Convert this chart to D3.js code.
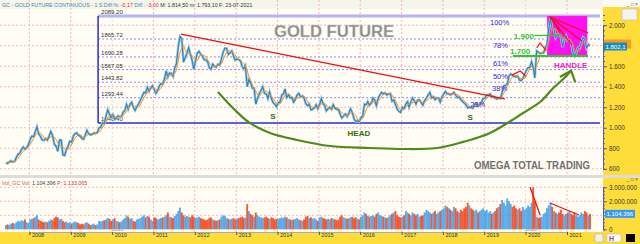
<!DOCTYPE html>
<html lang="en">
<head>
<meta charset="UTF-8">
<title>Gold Future</title>
<style>
  body { margin: 0; background: #fff; }
  svg { display: block; font-family: "Liberation Sans", Arial, sans-serif; }
</style>
</head>
<body>
<script src="https://d3js.org/d3.v7.min.js"></script>
<script>
// ---- data (semi-monthly closes from Jun 2007 to Jul 2021) ----
var closes = [
  660,652,668,678,668,672,712,742,752,788,812,792,805,835,                                           // 2007 Jun-Dec
  885,918,915,968,1010,940,915,880,878,895,880,920,965,928,840,822,770,880,880,735,730,790,820,870,  // 2008
  860,920,945,950,925,920,895,888,930,975,940,930,935,950,945,955,1000,1005,1050,1040,1115,1175,1135,1100,
  1130,1085,1090,1118,1108,1110,1152,1168,1228,1180,1230,1250,1195,1170,1208,1235,1270,1305,1345,1340,1395,1355,1390,1410,
  1370,1335,1365,1410,1430,1425,1475,1555,1495,1535,1530,1500,1585,1625,1790,1890,1870,1640,1680,1725,1780,1715,1660,1570,
  1655,1730,1745,1715,1700,1665,1660,1645,1585,1570,1620,1600,1590,1620,1610,1670,1740,1775,1775,1715,1730,1750,1700,1660,
  1670,1665,1650,1595,1575,1605,1400,1470,1440,1385,1385,1230,1285,1330,1365,1400,1335,1330,1285,1350,1285,1245,1230,1205,
  1245,1250,1320,1330,1380,1295,1320,1290,1295,1250,1280,1320,1335,1300,1310,1290,1235,1215,1230,1175,1180,1195,1225,1185,
  1230,1285,1235,1210,1165,1185,1200,1180,1225,1190,1180,1175,1130,1095,1115,1135,1110,1145,1185,1150,1085,1060,1070,1060,
  1100,1115,1230,1225,1255,1220,1240,1290,1270,1215,1290,1320,1345,1330,1340,1320,1330,1335,1260,1270,1225,1180,1160,1150,
  1200,1190,1235,1255,1200,1250,1290,1265,1230,1270,1270,1245,1220,1265,1290,1320,1345,1290,1300,1275,1290,1290,1250,1300,
  1330,1355,1330,1330,1320,1330,1345,1320,1295,1300,1275,1255,1240,1225,1195,1200,1195,1190,1230,1235,1210,1225,1250,1285,
  1290,1320,1320,1330,1300,1300,1290,1280,1290,1285,1345,1410,1415,1425,1505,1525,1510,1500,1495,1505,1465,1460,1480,1520,
  1560,1585,1590,1645,1590,1485,1750,1735,1725,1730,1730,1780,1810,1960,2065,1960,1960,1880,1910,1905,1890,1785,1860,1895,
  1850,1850,1820,1735,1700,1730,1780,1780,1840,1880,1860,1780,1810,1802                              // 2021 Jan-Jul
];

// orange moving average, one value per month from Jun 2007
var maMonthly = [
  656,665,671,698,748,786,811,
  861,922,955,932,892,893,923,889,828,816,784,802,
  867,919,935,907,922,944,939,946,976,1024,1095,1131,
  1113,1106,1107,1135,1182,1222,1211,1202,1255,1315,1359,1388,
  1376,1370,1408,1471,1515,1515,1560,1723,1798,1729,1725,1681,
  1654,1711,1706,1668,1615,1594,1608,1623,1699,1751,1743,1710,
  1674,1645,1606,1513,1424,1360,1308,1345,1358,1325,1291,1241,
  1233,1286,1331,1321,1289,1286,1309,1309,1263,1214,1195,1196,
  1231,1240,1199,1183,1199,1193,1145,1119,1126,1148,1120,1069,
  1086,1168,1233,1251,1254,1274,1321,1334,1331,1299,1234,1179,
  1175,1220,1235,1251,1264,1254,1250,1274,1311,1303,1289,1283,
  1309,1336,1328,1329,1315,1281,1249,1215,1195,1213,1225,1243,
  1286,1315,1313,1293,1286,1333,1399,1468,1510,1503,1481,1481,
  1536,1595,1578,1640,1735,1741,1820,1949,1966,1914,1873,1858,
  1864,1814,1746,1748,1820,1840,1813
];

// volume in millions, same semi-monthly dates as closes
var volumesM = [
  0.3,0.35,0.3,0.4,0.45,0.4,0.5,0.6,0.55,0.65,0.6,0.7,0.5,0.45,
  0.7,0.75,0.8,0.9,1.0,0.7,0.6,0.55,0.5,0.55,0.5,0.6,0.7,0.65,0.8,0.9,0.85,0.7,0.75,0.6,0.5,0.55,0.45,0.5,
  0.4,0.5,0.55,0.5,0.45,0.35,0.4,0.35,0.45,0.5,0.4,0.3,0.35,0.4,0.3,0.35,0.6,0.55,0.6,0.65,0.7,0.8,0.75,0.6,
  0.7,0.8,0.6,0.55,0.5,0.55,0.7,0.8,1.0,0.9,0.75,0.8,0.6,0.55,0.7,0.75,0.8,0.9,1.0,0.85,0.95,0.9,0.7,0.6,
  0.85,0.8,0.7,0.75,0.8,0.85,0.9,1.0,1.2,0.9,0.85,0.8,0.95,1.1,1.3,1.55,1.2,1.0,0.9,0.95,0.9,0.85,1.0,0.9,
  0.8,0.85,0.9,0.8,0.75,0.7,0.65,0.7,0.8,0.85,0.7,0.65,0.6,0.65,0.7,0.9,1.0,0.95,0.8,0.75,0.7,0.75,0.8,0.7,
  0.75,0.8,0.85,0.9,0.8,0.85,1.8,1.3,1.1,1.0,0.9,1.2,1.0,0.9,0.85,0.8,0.85,0.9,0.8,0.75,0.85,0.8,0.7,0.75,
  0.75,0.8,0.85,0.8,0.9,0.85,0.75,0.7,0.65,0.7,0.75,0.8,0.7,0.65,0.6,0.7,0.9,0.95,0.8,0.85,0.75,0.8,0.7,0.6,
  0.85,0.9,0.8,0.75,0.7,0.75,0.7,0.8,0.75,0.7,0.65,0.7,0.9,1.0,0.85,0.8,0.75,0.8,0.85,0.9,0.8,0.85,0.75,0.7,
  0.9,1.0,1.2,1.1,0.95,0.9,0.95,1.0,0.9,1.1,1.2,1.0,0.95,0.9,0.85,0.8,0.9,1.0,1.1,1.2,1.3,1.0,0.9,0.85,
  0.9,1.0,1.3,1.2,1.1,1.0,1.2,1.1,1.0,1.1,0.9,0.95,1.0,1.2,1.4,1.3,1.2,1.1,1.2,1.3,1.1,1.2,1.3,1.4,
  1.5,1.7,1.6,1.5,1.4,1.3,1.6,1.5,1.3,1.2,1.4,1.3,1.5,1.6,1.9,1.7,1.5,1.4,1.3,1.4,1.2,1.3,1.4,1.5,
  1.3,1.4,1.2,1.3,1.1,1.2,1.3,1.5,1.6,1.8,2.1,1.9,1.7,2.2,2.0,1.8,1.6,1.7,1.5,1.4,1.5,1.3,1.6,1.4,
  1.5,1.7,1.6,1.9,3.0,2.0,0.9,0.8,0.85,0.9,1.1,1.2,1.5,1.7,1.9,1.6,1.3,1.2,1.1,1.2,1.4,1.1,1.0,1.1,
  1.2,1.3,1.1,1.0,1.2,1.0,0.9,1.0,1.2,1.1,1.3,1.2,1.0,1.1
];

// fibonacci retracement levels (2015 low to 2020 high)
var fibLevels = [2089.20, 1865.72, 1690.28, 1567.05, 1443.82, 1293.44, 1046.40];
var fibPct = ["100%", "78%", "61%", "50%", "38%", "23%"];
var priceTicks = [600, 800, 1000, 1200, 1400, 1600, 1800, 2000];
var priceLabelTicks = [600, 800, 1000, 1200, 1400, 1600, 2000];   // 1.800 sits under the last-price tag
var volTicks = [0, 2000000, 3000000];                              // 1.000.000 sits under the last-volume tag
var years = d3.range(2008, 2022);

var lastPrice = "1.802,1";
var lastVol = "1.104.396";

// ---- setup ----
var W = 640, H = 244;
var plotR = 603;
var yellow = "#fedd3a";
var grid = "#f2b4c2";

var loc = d3.formatLocale({decimal: ",", thousands: ".", grouping: [3], currency: ["", ""]});
var fmt = loc.format(",");

var start = new Date(2007, 5, 1);
var closeDates = closes.map(function(d, i) {
  return d3.timeDay.offset(d3.timeMonth.offset(start, Math.floor(i / 2)), i % 2 ? 22 : 7);
});
var maDates = maMonthly.map(function(d, i) {
  return d3.timeDay.offset(d3.timeMonth.offset(start, i), 20);
});

// fractional year -> date
function fy(t) {
  var y0 = Math.floor(t), a = new Date(y0, 0, 1), b = new Date(y0 + 1, 0, 1);
  return new Date(+a + (t - y0) * (b - a));
}

var x = d3.scaleTime().domain([new Date(2008, 0, 1), new Date(2021, 0, 1)]).range([29.4, 567]);
var yP = d3.scaleLinear().domain([600, 2000]).range([168.8, 25.2]);
var yV = d3.scaleLinear().domain([0, 3000000]).range([229.3, 187.3]);

function P(t, p) { return [x(fy(t)), yP(p)]; }

var svg = d3.select("body").append("svg").attr("width", W).attr("height", H);

svg.append("rect").attr("width", W).attr("height", H).attr("fill", "#fffdf4");
svg.append("defs").append("clipPath").attr("id", "plot")
  .append("rect").attr("x", 0).attr("y", 9).attr("width", plotR).attr("height", 166);

// title bar
svg.append("rect").attr("x", 0).attr("y", 0).attr("width", plotR).attr("height", 9).attr("fill", "#f5f5ec");

// ---- grids ----
var g = svg.append("g");
years.forEach(function(yr) {
  var xx = x(new Date(yr, 0, 1));
  g.append("line").attr("x1", xx).attr("x2", xx).attr("y1", 0).attr("y2", 175)
    .attr("stroke", yr % 10 === 0 ? "#e0dcdc" : grid).attr("stroke-dasharray", "2,2");
  g.append("line").attr("x1", xx).attr("x2", xx).attr("y1", 186).attr("y2", 232)
    .attr("stroke", yr % 10 === 0 ? "#e0dcdc" : grid).attr("stroke-dasharray", "2,2");
});
priceTicks.forEach(function(p) {
  g.append("line").attr("x1", 0).attr("x2", plotR).attr("y1", yP(p)).attr("y2", yP(p))
    .attr("stroke", grid).attr("stroke-dasharray", "2,2");
});
[1000000, 2000000, 3000000].forEach(function(v) {
  g.append("line").attr("x1", 0).attr("x2", plotR).attr("y1", yV(v)).attr("y2", yV(v))
    .attr("stroke", grid).attr("stroke-dasharray", "2,2");
});

// ---- fibonacci box ----
var fibX0 = x(fy(2009.66)), fibX1 = x(fy(2021.80));
fibLevels.forEach(function(p, i) {
  var line = svg.append("line").attr("x1", fibX0).attr("x2", fibX1).attr("y1", yP(p)).attr("y2", yP(p));
  if (i === 0) line.attr("stroke", "#b4b4f0").attr("stroke-width", 3);
  else if (i === fibLevels.length - 1) line.attr("stroke", "#2a2ae0").attr("stroke-width", 1.5);
  else line.attr("stroke", "#8888e8").attr("stroke-dasharray", "2,2");
  svg.append("text").attr("x", fibX0 + 3).attr("y", yP(p) - 2)
    .attr("font-size", 6).attr("fill", "#333").text(d3.format(".2f")(p));
});
svg.append("line").attr("x1", fibX0).attr("x2", fibX0)
  .attr("y1", yP(fibLevels[0])).attr("y2", yP(fibLevels[6]))
  .attr("stroke", "#2a2ae0").attr("stroke-width", 1.5);

// magenta handle box
var hb0 = P(2020.52, 2089.2), hb1 = P(2021.49, 1700);
svg.append("rect").attr("x", hb0[0]).attr("y", hb0[1])
  .attr("width", hb1[0] - hb0[0]).attr("height", hb1[1] - hb0[1]).attr("fill", "#ff10f0");

// ---- price ----
var priceLine = d3.line().x(function(d, i) { return x(closeDates[i]); }).y(function(d) { return yP(d); });
var pg = svg.append("g").attr("clip-path", "url(#plot)");
pg.append("path").datum(closes).attr("d", priceLine)
  .attr("fill", "none").attr("stroke", "#a8c8dc").attr("stroke-width", 2.6);
pg.append("path").datum(closes).attr("d", priceLine)
  .attr("fill", "none").attr("stroke", "#1f86c0").attr("stroke-width", 1.1);
pg.append("path").datum(maMonthly)
  .attr("d", d3.line().curve(d3.curveMonotoneX).x(function(d, i) { return x(maDates[i]); }).y(function(d) { return yP(d); }))
  .attr("fill", "none").attr("stroke", "#ff8a1e").attr("stroke-width", 1);

// ---- annotations ----
function seg(pts, color, w) {
  svg.append("path").attr("d", d3.line()(pts.map(function(d) { return P(d[0], d[1]); })))
    .attr("fill", "none").attr("stroke", color).attr("stroke-width", w);
}
seg([[2011.665, 1914], [2019.50, 1281]], "#ee1111", 1.3);
seg([[2019.67, 1513], [2019.87, 1553], [2020.0, 1505]], "#ee1111", 1.2);
seg([[2020.27, 1778], [2020.35, 1827], [2020.49, 1758]], "#ee1111", 1.2);
seg([[2020.59, 2080], [2021.51, 1924]], "#ee1111", 1.2);
seg([[2020.59, 2080], [2021.36, 1846]], "#ee1111", 1.2);
seg([[2020.59, 2080], [2021.12, 1807]], "#ee1111", 1.2);
seg([[2020.59, 2080], [2020.83, 1934]], "#ee1111", 1.2);

// green levels
seg([[2020.21, 1900], [2020.90, 1900]], "#33c433", 1.3);
seg([[2019.69, 1700], [2021.51, 1700]], "#33c433", 2);

// cup arc with arrow
var arcPts = [[2012.56, 1349], [2012.97, 1173], [2013.33, 1047], [2013.82, 949], [2014.47, 881],
  [2015.27, 822], [2016.23, 803], [2017.03, 793], [2017.86, 803], [2018.49, 862], [2019.14, 949],
  [2019.94, 1144], [2020.35, 1251], [2020.67, 1388], [2020.96, 1495], [2021.10, 1558]];
svg.append("path")
  .attr("d", d3.line().curve(d3.curveCatmullRom)(arcPts.map(function(d) { return P(d[0], d[1]); })))
  .attr("fill", "none").attr("stroke", "#4c8c1c").attr("stroke-width", 2.2);
seg([[2020.83, 1495], [2021.10, 1558], [2021.2, 1446]], "#4c8c1c", 2.2);

function note(t, p, txt, size, color, anchor, bold) {
  var pt = P(t, p);
  return svg.append("text").attr("x", pt[0]).attr("y", pt[1])
    .attr("font-size", size).attr("fill", color).attr("text-anchor", anchor || "start")
    .attr("font-weight", bold ? "bold" : "normal").text(txt);
}
var pctT = [2019.14, 2019.21, 2019.21, 2019.21, 2019.19, 2018.66];
fibPct.forEach(function(s, i) {
  note(pctT[i], fibLevels[i], s, 7.5, "#2a2ae0").attr("dy", 9);
});
note(2013.89, 1086, "S", 8, "#2d6e10", "middle", true);
note(2015.97, 920, "HEAD", 8, "#2d6e10", "middle", true);
note(2018.66, 1076, "S", 8, "#2d6e10", "middle", true);
note(2021.09, 1583, "HANDLE", 8, "#ee22cc", "middle", true);
note(2020.20, 1870, "1.900", 8, "#33c433", "end", true);
note(2020.11, 1724, "1.700", 8, "#33c433", "end", true);

svg.append("text").attr("x", 274).attr("y", 37).attr("font-size", 17).attr("font-weight", "bold")
  .attr("fill", "#8a8a8a").attr("stroke", "#d0d0d0").attr("stroke-width", 0.4)
  .attr("textLength", 120).attr("lengthAdjust", "spacingAndGlyphs").text("GOLD FUTURE");
svg.append("text").attr("x", 474).attr("y", 169).attr("font-size", 10).attr("font-weight", "bold")
  .attr("fill", "#707070").attr("textLength", 116).attr("lengthAdjust", "spacingAndGlyphs")
  .text("OMEGA TOTAL TRADING");

// title bar text
var tb = svg.append("text").attr("x", 2).attr("y", 6.5).attr("font-size", 5.3);
[["GC - GOLD FUTURE CONTINUOUS - 1 S  Diff.%: ", "#3a88aa"], ["-0,17", "#e03030"], ["  Diff.: ", "#3a88aa"],
 ["-3,00", "#e03030"], ["  M: 1.814,50  m: 1.793,10  F: 23-07-2021", "#333"]].forEach(function(s) {
  tb.append("tspan").attr("fill", s[1]).text(s[0]);
});

// ---- volume panel ----
svg.append("rect").attr("x", 0).attr("y", 175).attr("width", W).attr("height", 3).attr("fill", "#dcdcdc");
var vb = svg.append("text").attr("x", 2).attr("y", 184.5).attr("font-size", 5.3);
[["Vol_GC  Vol: ", "#e05a30"], ["1.104.396", "#444"], ["  P: 1.133.065", "#e03030"]].forEach(function(s) {
  vb.append("tspan").attr("fill", s[1]).text(s[0]);
});
svg.append("g").selectAll("rect").data(volumesM).join("rect")
  .attr("x", function(d, i) { return x(closeDates[i]) - 0.95; })
  .attr("width", 1.9)
  .attr("y", function(d) { return yV(d * 1e6); })
  .attr("height", function(d) { return yV(0) - yV(d * 1e6); })
  .attr("fill", function(d, i) { return i > 0 && closes[i] < closes[i - 1] ? "#f23c12" : "#3b9de9"; })
  .attr("opacity", 0.85);
function vseg(pts) {
  svg.append("path").attr("d", d3.line()(pts.map(function(d) { return [x(fy(d[0])), yV(d[1] * 1e6)]; })))
    .attr("fill", "none").attr("stroke", "#ee1111").attr("stroke-width", 1.3);
}
vseg([[2020.11, 3.0], [2020.35, 1.02]]);
vseg([[2020.59, 1.88], [2021.29, 1.02]]);
svg.append("text").attr("x", x(new Date(2010, 0, 1))).attr("y", 231).attr("font-size", 5)
  .attr("fill", "#999").text("2010");
svg.append("text").attr("x", x(new Date(2020, 0, 1))).attr("y", 231).attr("font-size", 5)
  .attr("fill", "#999").text("2020");

// ---- right axes ----
svg.append("rect").attr("x", plotR).attr("y", 0).attr("width", W - plotR).attr("height", 7).attr("fill", "#fbfbf6");
svg.append("rect").attr("x", plotR).attr("y", 7).attr("width", W - plotR).attr("height", 168).attr("fill", yellow);
svg.append("rect").attr("x", plotR).attr("y", 178).attr("width", W - plotR).attr("height", 54).attr("fill", yellow);
svg.append("rect").attr("x", 622).attr("y", 9).attr("width", 15).attr("height", 11)
  .attr("fill", "#f4f4f4").attr("stroke", "#bbb").attr("stroke-width", 0.6);
svg.append("text").attr("x", 638).attr("y", 5.5).attr("font-size", 5).attr("text-anchor", "end")
  .attr("fill", "#555").text("_ \u25A1 \u00D7");
svg.append("text").attr("x", 638).attr("y", 181).attr("font-size", 5).attr("text-anchor", "end")
  .attr("fill", "#555").text("_ \u25A1 \u00D7");

function styleAxis(sel) {
  sel.selectAll("text").attr("font-size", 6.3).attr("fill", "#333").attr("font-family", "Liberation Sans, Arial, sans-serif");
  sel.selectAll("line").attr("stroke", "#5a5ab0");
  sel.select(".domain").attr("stroke", "#5a5ab0");
}
svg.append("g").attr("transform", "translate(" + plotR + ",0)")
  .call(d3.axisRight(yP).tickValues(d3.range(600, 2101, 50)).tickSize(2).tickFormat(""))
  .call(styleAxis);
svg.append("g").attr("transform", "translate(" + plotR + ",0)")
  .call(d3.axisRight(yP).tickValues(priceLabelTicks).tickSize(4).tickPadding(2).tickFormat(fmt))
  .call(styleAxis)
  .call(function(s) { s.select(".domain").remove(); });
svg.append("g").attr("transform", "translate(" + plotR + ",0)")
  .call(d3.axisRight(yV).tickValues(d3.range(0, 3000001, 250000)).tickSize(2).tickFormat(""))
  .call(styleAxis);
svg.append("g").attr("transform", "translate(" + plotR + ",0)")
  .call(d3.axisRight(yV).tickValues(volTicks).tickSize(4).tickPadding(2).tickFormat(fmt))
  .call(styleAxis)
  .call(function(s) { s.select(".domain").remove(); });

// last price / last volume tags
var lp = yP(1802.1);
svg.append("rect").attr("x", 604).attr("y", lp - 6).attr("width", 27).attr("height", 9).attr("fill", "#ff9a1a");
svg.append("rect").attr("x", 604).attr("y", lp - 3).attr("width", 23).attr("height", 8).attr("fill", "#1a8db8");
svg.append("text").attr("x", 605.5).attr("y", lp + 3.3).attr("font-size", 6).attr("fill", "#fff").text(lastPrice);
var lv = yV(1104396);
svg.append("rect").attr("x", 605).attr("y", lv - 4).attr("width", 30).attr("height", 8).attr("fill", "#3399ff");
svg.append("text").attr("x", 606.5).attr("y", lv + 2.3).attr("font-size", 6).attr("fill", "#fff").text(lastVol);

// ---- bottom time axis ----
svg.append("rect").attr("x", 0).attr("y", 232).attr("width", W).attr("height", 12).attr("fill", yellow);
var xa = svg.append("g").attr("transform", "translate(0,232)")
  .call(d3.axisBottom(x).tickValues(years.map(function(yr) { return new Date(yr, 0, 1); }))
    .tickSize(3).tickFormat(d3.timeFormat("%Y")));
xa.select(".domain").attr("stroke", "#aaa");
xa.selectAll("line").attr("stroke", "#555");
xa.selectAll("text").attr("font-size", 5.5).attr("fill", "#333").attr("text-anchor", "start")
  .attr("dx", 2).attr("dy", -1.5).attr("font-family", "Liberation Sans, Arial, sans-serif");

// window icons bottom right
svg.append("rect").attr("x", 595).attr("y", 234).attr("width", 8).attr("height", 8).attr("fill", "#f0f0f0").attr("stroke", "#aaa").attr("stroke-width", 0.5);
svg.append("rect").attr("x", 607).attr("y", 234).attr("width", 14).attr("height", 8).attr("fill", "#fff").attr("stroke", "#aaa").attr("stroke-width", 0.5);
svg.append("text").attr("x", 609).attr("y", 241).attr("font-size", 7).attr("font-weight", "bold").attr("fill", "#8844aa").text("H");
svg.append("rect").attr("x", 626).attr("y", 234).attr("width", 9).attr("height", 8).attr("fill", "#000");
</script>
</body>
</html>
